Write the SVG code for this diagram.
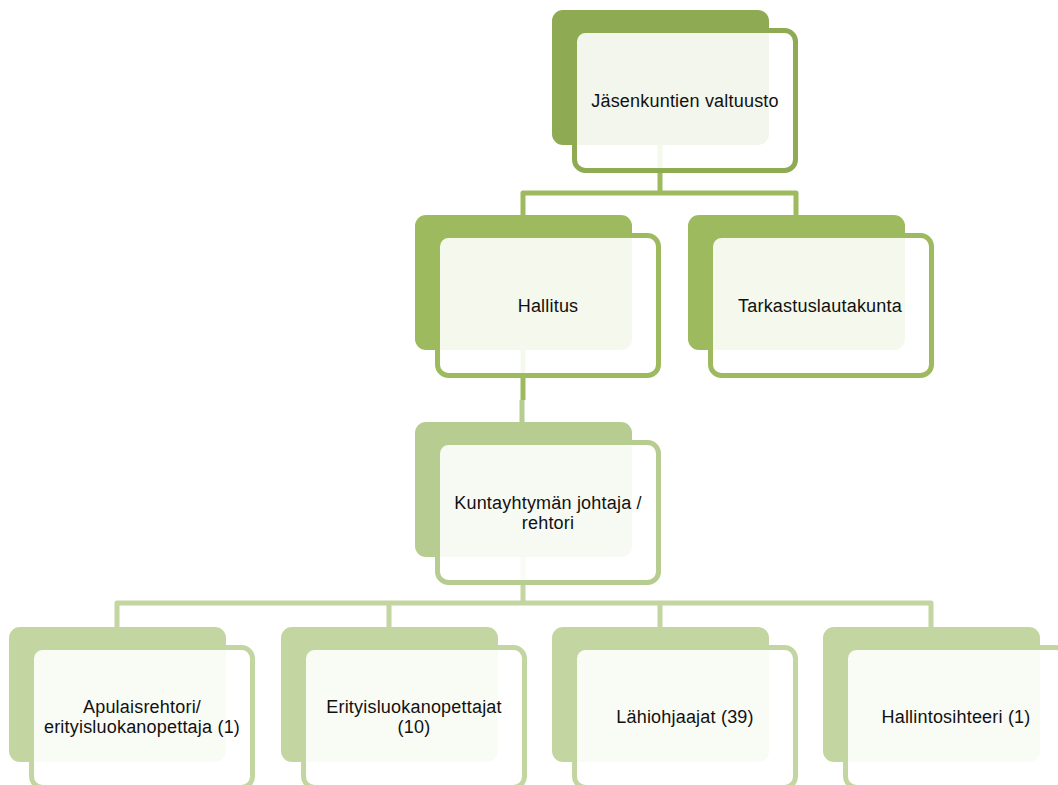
<svg xmlns="http://www.w3.org/2000/svg" width="1058" height="785" viewBox="0 0 1058 785">
<style>
.t{font-family:"Liberation Sans",Arial,sans-serif;font-size:18px;letter-spacing:0.2px;fill:#111;text-anchor:middle}
.c{fill:none;stroke-width:5;stroke-linejoin:round}
.o{fill:#fff;fill-opacity:0.89;stroke-width:5}
</style>
<rect width="1058" height="785" fill="#fff"/>
<g id="connectors">
<path class="c" stroke="#9DBB5E" d="M660,140 V193 M523,215 V193 H796 V215"/>
<path class="c" stroke="#9DBB5E" d="M523,345 V400"/>
<path class="c" stroke="#B7CC90" d="M522,400 V425"/>
<path class="c" stroke="#C3D6A2" d="M523,550 V603 M117,630 V603 H931 V630 M389,603 V630 M660,603 V630"/>
</g>
<g id="n1">
<rect x="552" y="10" width="217" height="135" rx="11" fill="#8EAA52"/>
<rect class="o" x="574.5" y="30.5" width="221" height="140" rx="11" stroke="#8EAA52"/>
<text class="t" x="685" y="107">Jäsenkuntien valtuusto</text>
</g>
<g id="n2">
<rect x="415" y="215" width="217" height="135" rx="11" fill="#9DBB5E"/>
<rect class="o" x="437.5" y="235.5" width="221" height="140" rx="11" stroke="#9DBB5E"/>
<text class="t" x="548" y="312">Hallitus</text>
</g>
<g id="n3">
<rect x="688" y="215" width="217" height="135" rx="11" fill="#9DBB5E"/>
<rect class="o" x="710.5" y="235.5" width="221" height="140" rx="11" stroke="#9DBB5E"/>
<text class="t" x="820" y="312">Tarkastuslautakunta</text>
</g>
<g id="n4">
<rect x="415" y="422" width="217" height="135" rx="11" fill="#B7CC90"/>
<rect class="o" x="437.5" y="442.5" width="221" height="140" rx="11" stroke="#B7CC90"/>
<text class="t" x="548" y="509">Kuntayhtymän johtaja /</text>
<text class="t" x="548" y="529">rehtori</text>
</g>
<g id="n5">
<rect x="9" y="627" width="217" height="135" rx="11" fill="#C3D6A2"/>
<rect class="o" x="31.5" y="647.5" width="221" height="140" rx="11" stroke="#C3D6A2"/>
<text class="t" x="142" y="713">Apulaisrehtori/</text>
<text class="t" x="142" y="733">erityisluokanopettaja (1)</text>
</g>
<g id="n6">
<rect x="281" y="627" width="217" height="135" rx="11" fill="#C3D6A2"/>
<rect class="o" x="303.5" y="647.5" width="221" height="140" rx="11" stroke="#C3D6A2"/>
<text class="t" x="414" y="713">Erityisluokanopettajat</text>
<text class="t" x="414" y="733">(10)</text>
</g>
<g id="n7">
<rect x="552" y="627" width="217" height="135" rx="11" fill="#C3D6A2"/>
<rect class="o" x="574.5" y="647.5" width="221" height="140" rx="11" stroke="#C3D6A2"/>
<text class="t" x="685" y="723">Lähiohjaajat (39)</text>
</g>
<g id="n8">
<rect x="823" y="627" width="217" height="135" rx="11" fill="#C3D6A2"/>
<rect class="o" x="845.5" y="647.5" width="221" height="140" rx="11" stroke="#C3D6A2"/>
<text class="t" x="956" y="723">Hallintosihteeri (1)</text>
</g>
</svg>
